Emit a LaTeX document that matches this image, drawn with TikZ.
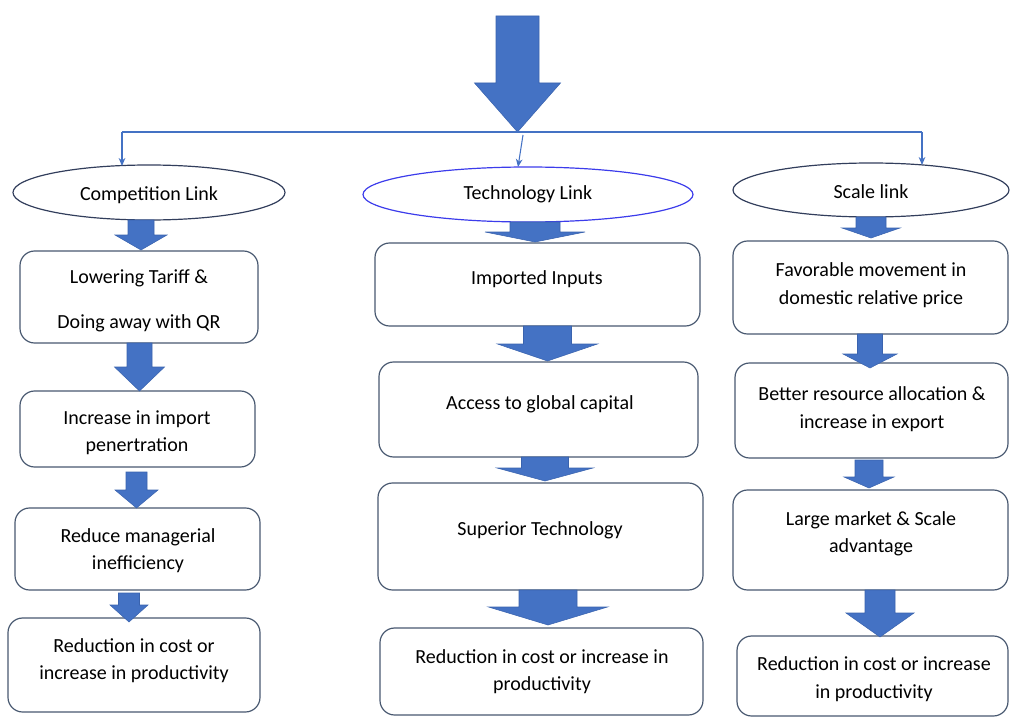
\documentclass[tikz,border=0pt]{standalone}
\usepackage{fontspec}
\setmainfont{Carlito}
\usetikzlibrary{shapes.geometric,fit,arrows.meta}

\definecolor{arrowblue}{HTML}{4472C4}
\definecolor{arrowedge}{HTML}{3A63AE}
\definecolor{boxedge}{RGB}{72,88,112}
\definecolor{elledge}{RGB}{50,62,92}
\definecolor{techedge}{RGB}{60,60,235}

\tikzset{
  stage/.style={draw=boxedge, line width=0.9pt, rounded corners=11pt, inner sep=0pt},
  linkoval/.style={ellipse, draw=elledge, line width=0.9pt, inner sep=0pt},
  caption/.style={align=center, font=\fontsize{15}{20.3}\selectfont, inner sep=0pt, yshift=-2pt},
  feeder/.style={draw=arrowblue, line width=0.8pt, -{Stealth[length=6pt,width=5pt]}},
  blockarrow/.style={fill=arrowblue, draw=arrowedge, line width=0.4pt, line join=miter},
}

% down-pointing block arrow: centre x, top y, shaft half-width, head half-width, head y, tip y
\newcommand\blockdown[6]{%
  \filldraw[blockarrow] ({#1-#3},#2) -- ({#1+#3},#2) -- ({#1+#3},#5) -- ({#1+#4},#5)
    -- (#1,#6) -- ({#1-#4},#5) -- ({#1-#3},#5) -- cycle;}

\begin{document}
\begin{tikzpicture}[x=0.75pt,y=-0.75pt]
\useasboundingbox (0,0) rectangle (1011,717);

% main arrow feeding the three links
\blockdown{517.5}{16}{21.5}{43}{83}{132}

% distribution line
\coordinate (split) at (517.5,132);
\coordinate (jl) at (122,132);
\coordinate (jr) at (922,132);
\coordinate (jm) at (523,135);
\draw[arrowblue, line width=0.8pt] (jl) -- (jr);

% the three links
\node[linkoval, minimum width=204pt, minimum height=41.25pt] (comp) at (149,192.5) {};
\node[caption] (comp-t) at (149,193) {Competition Link};
\node[linkoval, draw=techedge, minimum width=247.5pt, minimum height=41.25pt] (tech) at (528,194.5) {};
\node[caption] (tech-t) at (528,192) {Technology Link};
\node[linkoval, minimum width=207pt, minimum height=40.5pt] (scal) at (871,190) {};
\node[caption] (scal-t) at (871,189) {Scale link};

\coordinate (compin) at (122,166);
\coordinate (techin) at (518,167);
\coordinate (scalin) at (922,165);
\draw[feeder] (jl) -- (compin);
\draw[feeder] (jm) -- (techin);
\draw[feeder] (jr) -- (scalin);

% competition column
\node[stage, fit={(20,251) (258,343)}] (c1) {};
\node[caption, font=\fontsize{15}{33.8}\selectfont] (c1-t) at (139,298) {Lowering Tariff \&\\Doing away with QR};
\node[stage, fit={(20,391) (255,467)}] (c2) {};
\node[caption] (c2-t) at (137,430) {Increase in import\\penertration};
\node[stage, fit={(15,508) (260,590)}] (c3) {};
\node[caption] (c3-t) at (138,548) {Reduce managerial\\inefficiency};
\node[stage, fit={(8,618) (260,712)}] (c4) {};
\node[caption] (c4-t) at (134,658) {Reduction in cost or\\increase in productivity};

\blockdown{141}{220}{13}{26}{235}{250}
\blockdown{139.5}{343}{12.5}{25}{367}{391}
\blockdown{136.5}{472}{10.5}{21.5}{490}{508}
\blockdown{129}{593}{10.5}{19}{605}{622}

% technology column
\node[stage, fit={(375,243) (700,326)}] (t1) {};
\node[caption] (t1-t) at (537,277) {Imported Inputs};
\node[stage, fit={(379,362) (698,457)}] (t2) {};
\node[caption] (t2-t) at (540,402) {Access to global capital};
\node[stage, fit={(378,483) (703,590)}] (t3) {};
\node[caption] (t3-t) at (540,528) {Superior Technology};
\node[stage, fit={(380,628) (703,715)}] (t4) {};
\node[caption] (t4-t) at (542,669) {Reduction in cost or increase in\\productivity};

\blockdown{535}{222}{25}{50}{232}{242}
\blockdown{547.5}{326}{24}{50}{344}{361}
\blockdown{545}{457}{23.5}{48}{468}{481}
\blockdown{548}{590}{29}{59.5}{607}{625}

% scale column
\node[stage, fit={(733,241) (1008,334)}] (s1) {};
\node[caption] (s1-t) at (871,282.5) {Favorable movement in\\domestic relative price};
\node[stage, fit={(735,363) (1008,458)}] (s2) {};
\node[caption] (s2-t) at (872,406.5) {Better resource allocation \&\\increase in export};
\node[stage, fit={(733,490) (1008,590)}] (s3) {};
\node[caption] (s3-t) at (871,531) {Large market \& Scale\\advantage};
\node[stage, fit={(737,636) (1008,716)}] (s4) {};
\node[caption] (s4-t) at (874,676.5) {Reduction in cost or increase\\in productivity};

\blockdown{871}{217}{15}{29}{228}{238}
\blockdown{870}{334}{12.5}{27}{354}{368}
\blockdown{869}{460}{14}{25}{477}{488}
\blockdown{880}{590}{15}{34}{613}{637}
\end{tikzpicture}
\end{document}
